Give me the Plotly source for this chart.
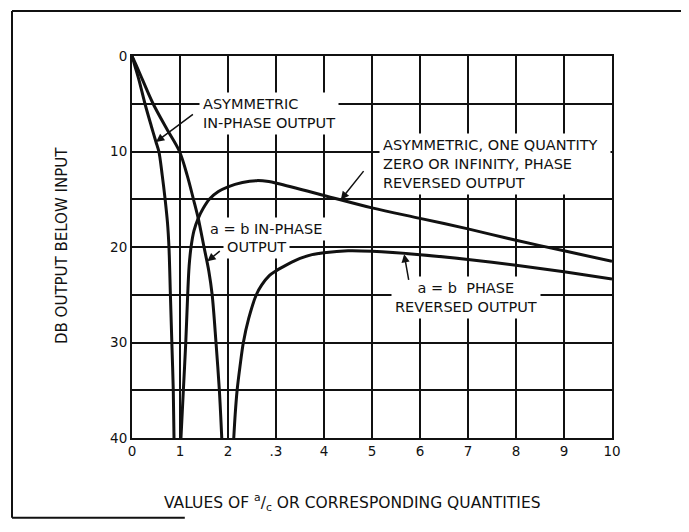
import plotly.graph_objects as go

# --- data ---
asym_inphase_x = [0, 0.07, 0.15, 0.27, 0.40, 0.50, 0.56, 0.63, 0.69, 0.74, 0.77, 0.80, 0.83, 0.86, 0.875]
asym_inphase_y = [0, 1.2, 2.6, 5, 7.3, 9, 10, 12.5, 15, 17.5, 20, 25, 30, 35, 40]

ab_inphase_x = [0, 0.1, 0.22, 0.44, 0.72, 0.99, 1.15, 1.28, 1.38, 1.5, 1.6, 1.67, 1.75, 1.82, 1.87]
ab_inphase_y = [0, 1.1, 2.5, 5, 7.6, 10, 12.5, 15, 17, 20, 22.5, 25, 30, 35, 40]

asym_rev_x = [1.02, 1.07, 1.12, 1.16, 1.19, 1.23, 1.29, 1.38, 1.49, 1.61, 1.8, 2.0, 2.3, 2.6,
              2.85, 3.0, 4, 5, 6, 7, 8, 9, 10]
asym_rev_y = [40, 35, 30, 25, 22, 20, 18.3, 17, 15.9, 15, 14.2, 13.7, 13.25, 13.05,
              13.15, 13.3, 14.6, 15.9, 17.0, 18.1, 19.3, 20.4, 21.5]

ab_rev_x = [2.12, 2.15, 2.19, 2.25, 2.32, 2.43, 2.59, 2.70, 2.86, 3.0, 3.25, 3.5, 3.75, 4,
            4.5, 5, 6, 7, 8, 9, 10]
ab_rev_y = [40, 37.5, 35, 32.5, 30, 27.5, 25, 24, 23, 22.5, 21.8, 21.2, 20.8, 20.6,
            20.4, 20.45, 20.8, 21.3, 21.9, 22.6, 23.35]

x_tickvals = [0, 1, 2, 3, 4, 5, 6, 7, 8, 9, 10]
x_ticktext = ["0", "1", "2", ".3", "4", "5", "6", "7", "8", "9", "10"]
y_tickvals = [0, 5, 10, 15, 20, 25, 30, 35, 40]
y_ticktext = ["0", "", "10", "", "20", "", "30", "", "40"]

FONT = "DejaVu Sans"
BLACK = "#111111"

fig = go.Figure()
for xs, ys in [(asym_inphase_x, asym_inphase_y), (ab_inphase_x, ab_inphase_y),
               (asym_rev_x, asym_rev_y), (ab_rev_x, ab_rev_y)]:
    fig.add_trace(go.Scatter(x=xs, y=ys, mode="lines",
                             line=dict(color=BLACK, width=3, shape="spline", smoothing=0.9),
                             showlegend=False, hoverinfo="skip"))

tfont = dict(family=FONT, size=14.5, color=BLACK)

def label(text, x, y, xanchor="left", align="left", width=None):
    fig.add_annotation(x=x, y=y, xref="x", yref="y", text=text, showarrow=False,
                       xanchor=xanchor, yanchor="middle", align=align, font=tfont,
                       bgcolor="white", borderpad=3, width=width)

def arrow(hx, hy, tx, ty):
    fig.add_annotation(x=hx, y=hy, ax=tx, ay=ty, xref="x", yref="y", axref="x", ayref="y",
                       text="", showarrow=True, arrowhead=2, arrowsize=1.1,
                       arrowwidth=1.5, arrowcolor=BLACK)

label("ASYMMETRIC<br>IN-PHASE OUTPUT", 1.40, 6.0)
arrow(0.5, 9.0, 1.3, 6.0)

label("ASYMMETRIC, ONE QUANTITY<br>ZERO OR INFINITY, PHASE<br>REVERSED OUTPUT", 5.15, 11.3,
      width=224)
arrow(4.35, 15.05, 4.85, 11.9)

label("a = b IN-PHASE", 1.54, 18.1)
label("OUTPUT", 1.90, 19.95)
arrow(1.57, 21.5, 1.86, 20.3)

label("a = b  PHASE<br>REVERSED OUTPUT", 6.96, 25.3, xanchor="center", align="center")
arrow(5.67, 20.75, 5.77, 23.6)

# axis titles
fig.add_annotation(x=-0.146, y=0.505, xref="paper", yref="paper", text="DB OUTPUT BELOW INPUT",
                   textangle=-90, showarrow=False, xanchor="center", yanchor="middle",
                   font=dict(family=FONT, size=15, color=BLACK))
fig.add_annotation(x=0.46, y=-0.17, xref="paper", yref="paper",
                   text="VALUES OF <sup>a</sup>/<sub>c</sub> OR CORRESPONDING QUANTITIES",
                   showarrow=False, xanchor="center", yanchor="middle",
                   font=dict(family=FONT, size=15.5, color=BLACK))

# outer frame (partial at bottom, as in the original)
L, R, T, B = -0.25, 1.148, 1.118, -0.209
frame = dict(type="line", xref="paper", yref="paper", line=dict(color=BLACK, width=2))
fig.add_shape(x0=L, x1=R, y0=T, y1=T, **frame)
fig.add_shape(x0=L, x1=L, y0=T, y1=B, **frame)
fig.add_shape(x0=R, x1=R, y0=T, y1=-0.2, **frame)
fig.add_shape(x0=L, x1=0.11, y0=B, y1=B, **frame)

axis_common = dict(showgrid=True, gridcolor=BLACK, gridwidth=1.5, zeroline=False,
                   showline=True, linecolor=BLACK, linewidth=2, mirror=True,
                   ticks="", automargin=False, tickfont=dict(family=FONT, size=13.5, color=BLACK))
fig.update_xaxes(range=[0, 10], tickvals=x_tickvals, ticktext=x_ticktext, **axis_common)
fig.update_yaxes(range=[40, 0], tickvals=y_tickvals, ticktext=y_ticktext, **axis_common)

# page body has an 8px default margin; size the figure so the plot area lands where the original's is
fig.update_layout(width=681, height=524, margin=dict(l=124, r=77, t=48, b=94),
                  paper_bgcolor="white", plot_bgcolor="white", showlegend=False)

fig.write_html("out.html")
